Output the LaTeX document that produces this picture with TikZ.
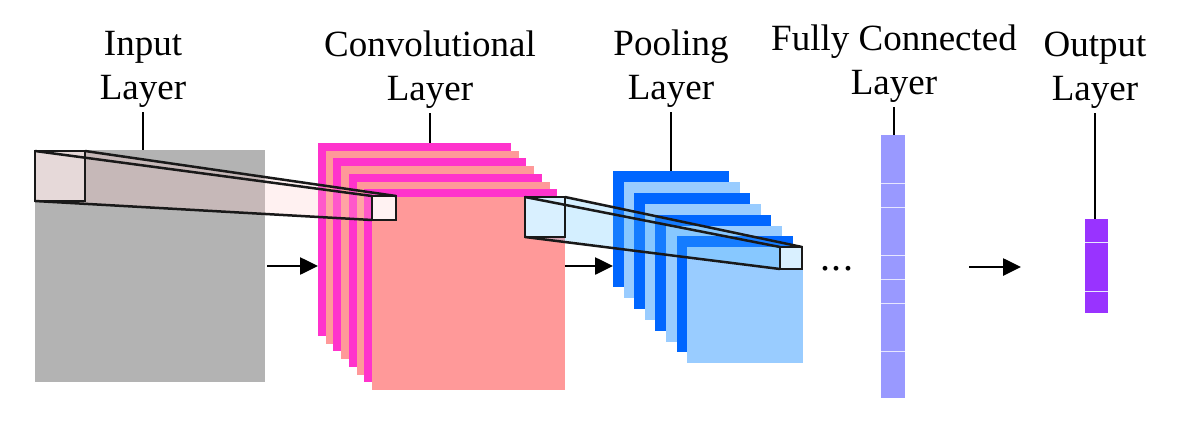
\documentclass[tikz,border=0pt]{standalone}
\usepackage{fontspec}
\setmainfont{Liberation Serif}
\usetikzlibrary{arrows.meta}

\definecolor{inputgray}{RGB}{179,179,179}
\definecolor{convmag}{RGB}{255,51,204}
\definecolor{convpink}{RGB}{255,153,153}
\definecolor{pooldark}{RGB}{0,102,255}
\definecolor{poollight}{RGB}{153,204,255}
\definecolor{fcblue}{RGB}{153,153,255}
\definecolor{outpurple}{RGB}{153,51,255}
\definecolor{rfpink}{RGB}{255,200,200}
\definecolor{rfface}{RGB}{230,217,217}
\definecolor{rfsmall}{RGB}{255,242,242}
\definecolor{rfblue}{RGB}{85,190,255}
\definecolor{rfblueface}{RGB}{217,240,255}

\tikzset{
  layer/.style={draw=none, inner sep=0pt, outer sep=0pt},
  lbl/.style={align=center, inner sep=0pt, anchor=south, font=\fontsize{37}{44}\selectfont},
  lblline/.style={line width=2.2pt, shorten <=4pt},
  flow/.style={line width=2.6pt, -{Triangle[length=18pt,width=17pt]}},
  cell/.style={draw=white!75!fcblue, line width=1pt},
  rfline/.style={line width=2.5pt, draw=black!90},
}

\begin{document}
\begin{tikzpicture}[x=1pt,y=-1pt]
  \useasboundingbox (0,0) rectangle (1193,423);

  % Input layer
  \node[layer, fill=inputgray, minimum width=230pt, minimum height=232pt, anchor=north west] (inp) at (35,150) {};

  % Convolutional layer: stack of feature maps
  \foreach \i/\col in {0/convmag,1/convpink,2/convmag,3/convpink,4/convmag,5/convpink,6/convmag,7/convpink}
    \node[layer, fill=\col, minimum size=193pt, anchor=north west] (conv\i) at ({318+7.7*\i},{143+7.7*\i}) {};

  % Pooling layer
  \foreach \i/\col in {0/pooldark,1/poollight,2/pooldark,3/poollight,4/pooldark,5/poollight,6/pooldark,7/poollight}
    \node[layer, fill=\col, minimum size=116pt, anchor=north west] (pool\i) at ({613+10.6*\i},{171+10.9*\i}) {};

  % Fully connected layer
  \node[layer, fill=fcblue, minimum width=24pt, minimum height=263pt, anchor=north west] (fc) at (881,135) {};
  \foreach \y in {183,207,255,279,303,351}
    \draw[cell] (fc.west |- 0,\y) -- (fc.east |- 0,\y);

  % Output layer
  \node[layer, fill=outpurple, minimum width=23pt, minimum height=94pt, anchor=north west] (out) at (1085,219) {};
  \foreach \y in {242,291}
    \draw[cell] (out.west |- 0,\y) -- (out.east |- 0,\y);

  % Receptive field: input -> convolution
  \node[layer, minimum size=50pt, anchor=north west] (rfin) at (35,151) {};
  \node[layer, minimum size=24pt, anchor=north west] (rfconv) at (372,196) {};
  \fill[rfpink, opacity=0.25] (rfin.north west) -- (rfin.north east) -- (rfconv.north east)
    -- (rfconv.south east) -- (rfconv.south west) -- (rfin.south west) -- cycle;
  \fill[rfface] (rfin.north west) rectangle (rfin.south east);
  \fill[rfsmall] (rfconv.north west) rectangle (rfconv.south east);
  \draw[rfline] (rfin.north west) rectangle (rfin.south east);
  \draw[rfline] (rfconv.north west) rectangle (rfconv.south east);
  \draw[rfline] (rfin.north west) -- (rfconv.north west);
  \draw[rfline] (rfin.north east) -- (rfconv.north east);
  \draw[rfline] (rfin.south west) -- (rfconv.south west);

  % Receptive field: convolution -> pooling
  \node[layer, minimum size=40pt, anchor=north west] (rfcv) at (525,197) {};
  \node[layer, minimum size=22pt, anchor=north west] (rfpool) at (780,247) {};
  \fill[rfblue, opacity=0.25] (rfcv.north west) -- (rfcv.north east) -- (rfpool.north east)
    -- (rfpool.south east) -- (rfpool.south west) -- (rfcv.south west) -- cycle;
  \fill[rfblueface] (rfcv.north west) rectangle (rfcv.south east);
  \fill[rfblueface] (rfpool.north west) rectangle (rfpool.south east);
  \draw[rfline] (rfcv.north west) rectangle (rfcv.south east);
  \draw[rfline] (rfpool.north west) rectangle (rfpool.south east);
  \draw[rfline] (rfcv.north west) -- (rfpool.north west);
  \draw[rfline] (rfcv.north east) -- (rfpool.north east);
  \draw[rfline] (rfcv.south west) -- (rfpool.south west);

  % Dots
  \node[font=\fontsize{40}{44}\selectfont, anchor=base, inner sep=0pt] (dots) at (837,270) {.\kern1.5pt.\kern1.5pt.};

  % Labels
  \node[lbl] (inlbl) at (143,108) {Input\\Layer};
  \node[lbl] (convlbl) at (430,109) {Convolutional\\Layer};
  \node[lbl] (poollbl) at (671,108) {Pooling\\Layer};
  \node[lbl] (fclbl) at (894,103) {Fully Connected\\Layer};
  \node[lbl] (outlbl) at (1095,109) {Output\\Layer};

  \draw[lblline] (inlbl.south) -- (inlbl.south |- inp.north);
  \draw[lblline] (convlbl.south) -- (convlbl.south |- conv0.north);
  \draw[lblline] (poollbl.south) -- (poollbl.south |- pool0.north);
  \draw[lblline] (fclbl.south) -- (fclbl.south |- fc.north);
  \draw[lblline] (outlbl.south) -- (outlbl.south |- out.north);

  % Arrows
  \coordinate (fcarr) at (969,267);
  \coordinate (outarr) at (1021,267);
  \draw[flow] (inp.east) ++(2,0) -- (inp.east -| conv0.west);
  \draw[flow] (conv7.east |- inp.east) -- (pool0.west |- inp.east);
  \draw[flow] (fcarr) -- (outarr);
\end{tikzpicture}
\end{document}
